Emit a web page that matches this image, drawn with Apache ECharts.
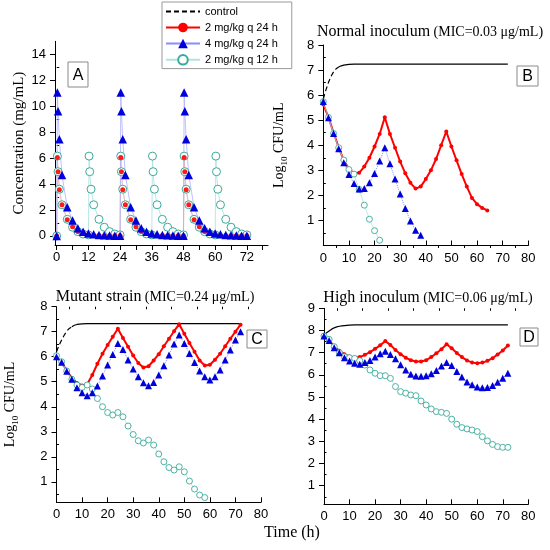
<!DOCTYPE html>
<html>
<head>
<meta charset="utf-8">
<script src="https://cdn.jsdelivr.net/npm/echarts@6/dist/echarts.min.js"></script>
<style>
  html, body { margin: 0; padding: 0; background: #fff; }
  #chart { width: 550px; height: 550px; }
</style>
</head>
<body>
<div id="chart"></div>
<script>
// ---- panel A: plasma concentration (mg/mL) ----
var timeA24 = [0, 0.25, 0.5, 1, 2, 4, 6, 8, 10, 12, 14, 16, 18, 20, 22,
  24, 24.25, 24.5, 25, 26, 28, 30, 32, 34, 36, 38, 40, 42, 44, 46,
  48, 48.25, 48.5, 49, 50, 52, 54, 56, 58, 60, 62, 64, 66, 68, 70, 72];
var concA_2q24 = [0, 6.05, 4.95, 3.55, 2.4, 1.25, 0.7, 0.35, 0.18, 0.1, 0.06, 0.04, 0.02, 0.01, 0.01,
  0.01, 6.05, 4.95, 3.55, 2.4, 1.25, 0.7, 0.35, 0.18, 0.1, 0.06, 0.04, 0.02, 0.01, 0.01,
  0.01, 6.05, 4.95, 3.55, 2.4, 1.25, 0.7, 0.35, 0.18, 0.1, 0.06, 0.04, 0.02, 0.01, 0.01, 0.01];
var concA_4q24 = [0, 11.05, 9.6, 7.45, 4.7, 2.2, 1.18, 0.6, 0.33, 0.18, 0.12, 0.08, 0.05, 0.03, 0.02,
  0.01, 11.05, 9.6, 7.45, 4.7, 2.2, 1.18, 0.6, 0.33, 0.18, 0.12, 0.08, 0.05, 0.03, 0.02,
  0.01, 11.05, 9.6, 7.45, 4.7, 2.2, 1.18, 0.6, 0.33, 0.18, 0.12, 0.08, 0.05, 0.03, 0.02, 0.01];
var timeA12 = [0, 0.25, 0.5, 1, 2, 4, 6, 8, 10,
  12, 12.25, 12.5, 13, 14, 16, 18, 20, 22,
  24, 24.25, 24.5, 25, 26, 28, 30, 32, 34,
  36, 36.25, 36.5, 37, 38, 40, 42, 44, 46,
  48, 48.25, 48.5, 49, 50, 52, 54, 56, 58,
  60, 60.25, 60.5, 61, 62, 64, 66, 68, 70, 72];
var concA_2q12 = [0, 6.15, 4.95, 3.6, 2.4, 1.28, 0.67, 0.33, 0.15,
  0.08, 6.15, 4.95, 3.6, 2.4, 1.28, 0.67, 0.33, 0.15,
  0.08, 6.15, 4.95, 3.6, 2.4, 1.28, 0.67, 0.33, 0.15,
  0.08, 6.15, 4.95, 3.6, 2.4, 1.28, 0.67, 0.33, 0.15,
  0.08, 6.15, 4.95, 3.6, 2.4, 1.28, 0.67, 0.33, 0.15,
  0.08, 6.15, 4.95, 3.6, 2.4, 1.28, 0.67, 0.33, 0.15, 0.08];

// ---- panels B-D: log10 CFU/mL, sampled every 2 h ----
var timeKill = [0, 2, 4, 6, 8, 10, 12, 14, 16, 18, 20, 22, 24, 26, 28, 30, 32, 34, 36,
  38, 40, 42, 44, 46, 48, 50, 52, 54, 56, 58, 60, 62, 64, 66, 68, 70, 72];
var timeCtrl = [0, 1, 2, 3, 4, 5, 6, 7, 8, 10, 12, 16, 24, 36, 48, 60, 72];

var ctrlB = [5.85, 6.2, 6.5, 6.75, 6.93, 7.05, 7.12, 7.17, 7.2, 7.23, 7.24, 7.24, 7.24, 7.24, 7.24, 7.24, 7.24];
var redB = [5.63, 5.12, 4.5, 3.92, 3.4, 3.05, 2.88, 2.9, 3.15, 3.5, 3.95, 4.45, 5.12, 4.45, 3.9, 3.35, 2.88, 2.5, 2.27,
  2.35, 2.65, 3.0, 3.45, 4.0, 4.55, 3.95, 3.4, 2.85, 2.35, 1.9, 1.65, 1.5, 1.4, null, null, null, null];
var blueB = [5.75, 5.1, 4.47, 3.86, 3.3, 2.83, 2.47, 2.25, 2.27, 2.5, 2.87, 3.37, 3.9, 3.26, 2.65, 2.05, 1.48, 0.98, 0.61,
  0.41, null, null, null, null, null, null, null, null, null, null, null, null, null, null, null, null, null];
var cyanB = [5.74, 5.11, 4.47, 3.9, 3.41, 3.03, 2.85, 2.24, 1.61, 1.05, 0.59, 0.21, null, null, null, null, null, null, null,
  null, null, null, null, null, null, null, null, null, null, null, null, null, null, null, null, null, null];

var ctrlC = [6.2, 6.45, 6.67, 6.86, 7.02, 7.13, 7.2, 7.26, 7.29, 7.31, 7.32, 7.32, 7.32, 7.32, 7.32, 7.32, 7.32];
var redC = [6.0, 5.78, 5.45, 5.15, 4.95, 4.85, 4.9, 5.27, 5.72, 6.12, 6.47, 6.8, 7.12, 6.75, 6.4, 6.05, 5.75, 5.57, 5.62,
  5.85, 6.1, 6.42, 6.72, 7.02, 7.3, 6.92, 6.55, 6.2, 5.85, 5.65, 5.68, 5.88, 6.12, 6.42, 6.72, 7.0, 7.28];
var blueC = [6.0, 5.78, 5.42, 5.1, 4.76, 4.56, 4.44, 4.56, 4.83, 5.23, 5.67, 6.09, 6.53, 6.29, 5.87, 5.51, 5.2, 4.96, 4.84,
  4.97, 5.27, 5.64, 6.07, 6.51, 6.87, 6.53, 6.13, 5.77, 5.43, 5.2, 5.07, 5.2, 5.47, 5.87, 6.27, 6.67, 7.0];
var cyanC = [6.04, 5.8, 5.43, 5.1, 4.87, 4.77, 4.87, 4.71, 4.33, 4.0, 3.77, 3.67, 3.77, 3.6, 3.23, 2.89, 2.64, 2.55, 2.67,
  2.47, 2.11, 1.8, 1.57, 1.47, 1.6, 1.4, 1.03, 0.71, 0.47, 0.37, null, null, null, null, null, null, null];

var ctrlD = [7.8, 7.9, 7.98, 8.06, 8.12, 8.16, 8.19, 8.21, 8.22, 8.24, 8.25, 8.25, 8.25, 8.25, 8.25, 8.25, 8.25];
var redD = [7.75, 7.55, 7.28, 7.08, 6.93, 6.83, 6.77, 6.8, 6.9, 7.02, 7.17, 7.33, 7.52, 7.35, 7.12, 6.93, 6.77, 6.66, 6.6,
  6.6, 6.66, 6.8, 6.97, 7.15, 7.38, 7.2, 6.98, 6.8, 6.65, 6.55, 6.52, 6.55, 6.63, 6.75, 6.92, 7.1, 7.32];
var blueD = [7.75, 7.55, 7.22, 7.0, 6.77, 6.62, 6.52, 6.48, 6.55, 6.65, 6.8, 6.95, 7.06, 6.92, 6.72, 6.45, 6.22, 6.03, 5.95,
  5.93, 5.96, 6.05, 6.2, 6.4, 6.55, 6.42, 6.15, 5.9, 5.68, 5.55, 5.45, 5.42, 5.43, 5.52, 5.67, 5.85, 6.07];
var cyanD = [7.75, 7.6, 7.27, 7.0, 6.82, 6.77, 6.74, 6.64, 6.44, 6.22, 6.07, 5.96, 5.96, 5.84, 5.47, 5.24, 5.17, 5.09, 5.06,
  4.82, 4.64, 4.46, 4.34, 4.31, 4.26, 4.0, 3.77, 3.62, 3.56, 3.51, 3.44, 3.21, 3.02, 2.86, 2.76, 2.73, 2.73];

// ---- tick labels / tick positions ----
var ticksA_x = [0, 12, 24, 36, 48, 60, 72];
var ticksA_xAll = [0, 6, 12, 18, 24, 30, 36, 42, 48, 54, 60, 66, 72, 78];
var ticksA_y = [0, 2, 4, 6, 8, 10, 12, 14];
var ticksA_yMinor = [1, 3, 5, 7, 9, 11, 13];
var ticksKill_x = [0, 10, 20, 30, 40, 50, 60, 70, 80];
var ticksKill_xMinor = [5, 15, 25, 35, 45, 55, 65, 75];
var ticksLog8 = [1, 2, 3, 4, 5, 6, 7, 8];
var ticksLog9 = [1, 2, 3, 4, 5, 6, 7, 8, 9];
var ticksLogMinor8 = [0.5, 1.5, 2.5, 3.5, 4.5, 5.5, 6.5, 7.5];
var ticksLogMinor9 = [0.5, 1.5, 2.5, 3.5, 4.5, 5.5, 6.5, 7.5, 8.5];

var names = ['control', '2 mg/kg q 24 h', '4 mg/kg q 24 h', '2 mg/kg q 12 h'];

var SERIF = '"Liberation Serif", "Times New Roman", serif';
var SANS = '"Liberation Sans", Arial, sans-serif';
var RED = '#ff0000', BLUE = '#0000dd', CYAN = '#3aaa9a';

function pts(t, v) {
  var out = [];
  for (var i = 0; i < t.length; i++) {
    if (v[i] != null) out.push([t[i], v[i]]);
  }
  return out;
}

function part(t, v, from, to) {
  var out = [];
  for (var i = 0; i < t.length; i++) {
    if (t[i] >= from && t[i] <= to) out.push([t[i], v[i]]);
  }
  return out;
}

// main axis + a second axis on the same grid that only draws the short minor ticks
function axes(dim, grid, min, max, labels, major, minor, inside, extra) {
  var main = {
    type: 'value', gridIndex: grid, min: min, max: max,
    axisLine: { show: true, onZero: false, lineStyle: { color: '#000', width: 1 } },
    axisTick: { show: true, inside: inside, length: 5, customValues: major, lineStyle: { color: '#000' } },
    axisLabel: { customValues: labels, color: '#000', fontFamily: SANS, fontSize: 13, margin: dim === 'x' ? 6 : 9 },
    splitLine: { show: false }
  };
  var sub = {
    type: 'value', gridIndex: grid, min: min, max: max,
    axisLine: { show: false },
    axisTick: { show: true, inside: inside, length: 2.5, customValues: minor, lineStyle: { color: '#000' } },
    axisLabel: { show: false },
    splitLine: { show: false }
  };
  if (extra) Object.assign(main, extra);
  return [main, sub];
}

var yName = {
  name: '{n|Log}{s|10}{n| CFU/mL}',
  nameLocation: 'middle',
  nameRotate: 90,
  nameGap: 34,
  nameTextStyle: {
    rich: {
      n: { fontFamily: SERIF, fontSize: 14, color: '#000', lineHeight: 20 },
      s: { fontFamily: SERIF, fontSize: 9, color: '#000', lineHeight: 9, verticalAlign: 'bottom' }
    }
  }
};

var xAxes = [].concat(
  axes('x', 0, -0.65, 80, ticksA_x, ticksA_xAll, [], false),
  axes('x', 1, 0, 80, ticksKill_x, ticksKill_x, ticksKill_xMinor, true),
  axes('x', 2, 0, 80, ticksKill_x, ticksKill_x, ticksKill_xMinor, true),
  axes('x', 3, 0, 80, ticksKill_x, ticksKill_x, ticksKill_xMinor, true)
);
var yAxes = [].concat(
  axes('y', 0, -0.7, 15, ticksA_y, ticksA_y, ticksA_yMinor, false, {
    name: 'Concentration (mg/mL)', nameLocation: 'middle', nameRotate: 90, nameGap: 28,
    nameTextStyle: { fontFamily: SERIF, fontSize: 15, color: '#000' }
  }),
  axes('y', 1, 0, 8, ticksLog8, ticksLog8, ticksLogMinor8, false, yName),
  axes('y', 2, 0.18, 8, ticksLog8, ticksLog8, ticksLogMinor8, false, Object.assign({}, yName, { nameGap: 36 })),
  axes('y', 3, 0.16, 9, ticksLog9, ticksLog9, ticksLogMinor9, false)
);

function line(name, idx, data, st) {
  return Object.assign({
    type: 'line', name: name, xAxisIndex: idx, yAxisIndex: idx, data: data,
    animation: false, silent: true, showAllSymbol: true
  }, st);
}

var ctrlDash = { symbol: 'none', lineStyle: { color: '#000', width: 1.2, type: [5, 3] } };
var ctrlSolid = { symbol: 'none', lineStyle: { color: '#000', width: 1.2 } };
var redKill = { symbol: 'circle', symbolSize: 4, itemStyle: { color: RED }, lineStyle: { color: RED, width: 2 } };
var blueKill = { symbol: 'triangle', symbolSize: 7, itemStyle: { color: BLUE }, lineStyle: { color: '#8c8cff', width: 1, type: 'dotted' } };
// open circles: white fill, thin teal ring
var cyanKill = { symbol: 'circle', symbolSize: 6, itemStyle: { color: '#fff', borderColor: CYAN, borderWidth: 0.9 }, lineStyle: { color: '#b0e4de', width: 0.8 } };

var series = [];
// panel B (first, so the legend picks up these styles)
series.push(line(names[0], 2, part(timeCtrl, ctrlB, 0, 6), ctrlDash));
series.push(line(names[0], 2, part(timeCtrl, ctrlB, 6, 72), ctrlSolid));
series.push(line(names[1], 2, pts(timeKill, redB), redKill));
series.push(line(names[3], 2, pts(timeKill, cyanB), cyanKill));
series.push(line(names[2], 2, pts(timeKill, blueB), blueKill));
// panel C
series.push(line(names[0], 4, part(timeCtrl, ctrlC, 0, 6), ctrlDash));
series.push(line(names[0], 4, part(timeCtrl, ctrlC, 6, 72), ctrlSolid));
series.push(line(names[1], 4, pts(timeKill, redC), redKill));
series.push(line(names[3], 4, pts(timeKill, cyanC), cyanKill));
series.push(line(names[2], 4, pts(timeKill, blueC), blueKill));
// panel D
series.push(line(names[0], 6, pts(timeCtrl, ctrlD), ctrlSolid));
series.push(line(names[1], 6, pts(timeKill, redD), redKill));
series.push(line(names[3], 6, pts(timeKill, cyanD), cyanKill));
series.push(line(names[2], 6, pts(timeKill, blueD), blueKill));
// panel A
series.push(line(names[3], 0, pts(timeA12, concA_2q12), {
  symbol: 'circle', symbolSize: 8, itemStyle: { color: '#fff', borderColor: CYAN, borderWidth: 1 },
  lineStyle: { color: '#a8e0e0', width: 0.8 }
}));
series.push(line(names[1], 0, pts(timeA24, concA_2q24), {
  symbol: 'circle', symbolSize: 5, itemStyle: { color: '#ff1a1a' },
  lineStyle: { color: '#ffb0b0', width: 0.8 }
}));
series.push(line(names[2], 0, pts(timeA24, concA_4q24), {
  symbol: 'triangle', symbolSize: 8.5, itemStyle: { color: BLUE },
  lineStyle: { color: '#b0b0ff', width: 0.8 }
}));

function letterBox(ch, x, y, w, h) {
  return [
    { type: 'rect', shape: { x: x, y: y, width: w, height: h }, style: { fill: '#fff', stroke: '#8a8a8a', lineWidth: 1 }, z: 10 },
    { type: 'text', x: x + w / 2, y: y + h / 2 + 1, style: { text: ch, fill: '#000', font: '16px ' + SANS, textAlign: 'center', textVerticalAlign: 'middle' }, z: 11 }
  ];
}

function panelTitle(main, mic, cx, cy) {
  return {
    type: 'text', x: cx, y: cy, z: 11,
    style: {
      text: '{a|' + main + '} {b|' + mic + '}',
      textAlign: 'center', textVerticalAlign: 'middle',
      rich: {
        a: { fontFamily: SERIF, fontSize: 16, fill: '#000' },
        b: { fontFamily: SERIF, fontSize: 14, fill: '#000' }
      }
    }
  };
}

var graphics = [].concat(
  letterBox('A', 68, 62, 20, 25),
  letterBox('B', 517, 66, 21, 20),
  letterBox('C', 247, 330, 20, 18),
  letterBox('D', 520, 328, 18, 18),
  [
    panelTitle('Normal inoculum', '(MIC=0.03 \u03bcg/mL)', 430, 32),
    panelTitle('Mutant strain', '(MIC=0.24 \u03bcg/mL)', 155, 297),
    panelTitle('High inoculum', '(MIC=0.06 \u03bcg/mL)', 428, 298),
    { type: 'text', x: 292, y: 533, z: 11, style: { text: 'Time (h)', fill: '#000', font: '16px ' + SERIF, textAlign: 'center', textVerticalAlign: 'middle' } }
  ]
);

var chart = echarts.init(document.getElementById('chart'), null, { renderer: 'canvas' });
chart.setOption({
  backgroundColor: '#fff',
  animation: false,
  grid: [
    { left: 55, top: 41.3, width: 213, height: 203.7, outerBoundsMode: 'none' },
    { left: 323.3, top: 45, width: 205, height: 200.5, outerBoundsMode: 'none' },
    { left: 56.5, top: 306.7, width: 204.5, height: 195.6, outerBoundsMode: 'none' },
    { left: 324, top: 308.3, width: 204.3, height: 196, outerBoundsMode: 'none' }
  ],
  xAxis: xAxes.map(function (a, i) { return Object.assign(a, { gridIndex: Math.floor(i / 2) }); }),
  yAxis: yAxes.map(function (a, i) { return Object.assign(a, { gridIndex: Math.floor(i / 2) }); }),
  legend: {
    data: [
      { name: names[0], itemStyle: { opacity: 0 } },
      { name: names[1] },
      { name: names[2], lineStyle: { type: 'solid' } },
      { name: names[3] }
    ],
    orient: 'vertical', left: 162, top: 2,
    itemWidth: 34, itemHeight: 12, itemGap: 5,
    padding: [4, 14, 3, 3],
    borderColor: '#999', borderWidth: 1, backgroundColor: '#fff',
    textStyle: { fontFamily: SANS, fontSize: 11, color: '#000' },
    selectedMode: false
  },
  graphic: { elements: graphics },
  series: series
});
</script>
</body>
</html>
